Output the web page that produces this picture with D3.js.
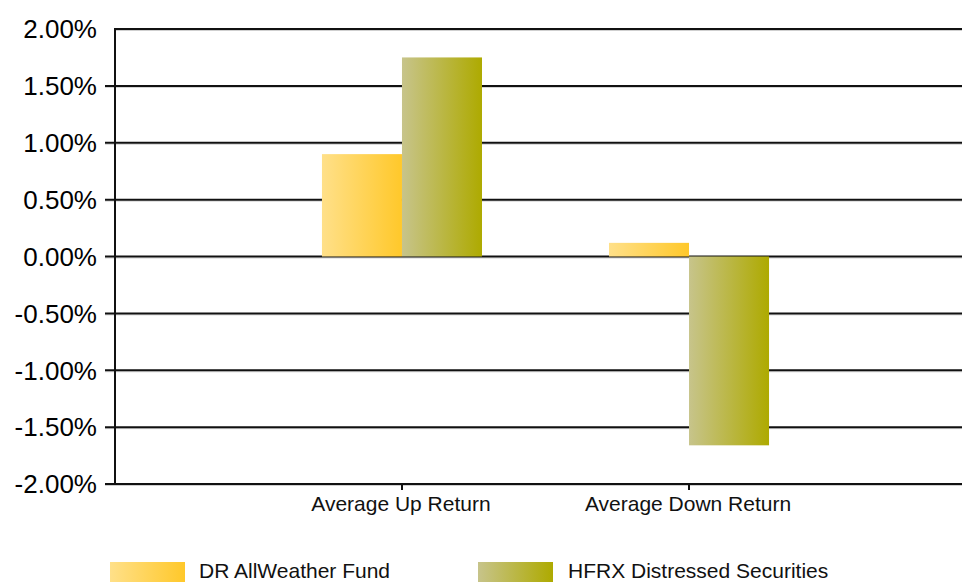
<!DOCTYPE html>
<html>
<head>
<meta charset="utf-8">
<script src="https://cdn.jsdelivr.net/npm/d3@7"></script>
<style>
  html, body { margin: 0; padding: 0; background: #fff; overflow: hidden; }
  svg { display: block; font-family: "Liberation Sans", Arial, sans-serif; }
</style>
</head>
<body>
<svg id="chart" width="962" height="582"></svg>
<script>
// Return statistics, in percent
const categories = ["Average Up Return", "Average Down Return"];
const seriesNames = ["DR AllWeather Fund", "HFRX Distressed Securities"];
const fundValues = [0.90, 0.12];
const indexValues = [1.75, -1.66];
const yTickValues = [-2, -1.5, -1, -0.5, 0, 0.5, 1, 1.5, 2];

const seriesValues = [fundValues, indexValues];
const gradients = [
  { id: "gradFund", from: "#ffe089", to: "#ffc82a" },
  { id: "gradIndex", from: "#c7c48b", to: "#aeaa00" }
];

const svg = d3.select("#chart");
const plotLeft = 115, plotRight = 976, plotTop = 29, plotBottom = 484;

const y = d3.scaleLinear().domain([-2, 2]).range([plotBottom, plotTop]);
const x = d3.scaleBand().domain(categories).range([plotLeft, plotRight])
  .paddingInner(0.4425).paddingOuter(0.721);
const x1 = d3.scaleBand().domain(seriesNames).range([0, x.bandwidth()]).padding(0);

const pct = d => d.toFixed(2) + "%";

const defs = svg.append("defs");
gradients.forEach(g => {
  const lg = defs.append("linearGradient").attr("id", g.id)
    .attr("x1", "0%").attr("x2", "100%").attr("y1", "0%").attr("y2", "0%");
  lg.append("stop").attr("offset", "0%").attr("stop-color", g.from);
  lg.append("stop").attr("offset", "100%").attr("stop-color", g.to);
});

// Horizontal gridlines with a soft shadow line under each
const grid = svg.append("g");
grid.selectAll("line.shadow").data(yTickValues).join("line")
  .attr("class", "shadow")
  .attr("x1", d => d === 2 ? plotLeft : plotLeft - 10).attr("x2", 962)
  .attr("y1", d => y(d) + 1.5).attr("y2", d => y(d) + 1.5)
  .attr("stroke", "#cfcfcf").attr("stroke-width", 1);
grid.selectAll("line.major").data(yTickValues).join("line")
  .attr("class", "major")
  .attr("x1", d => d === 2 ? plotLeft : plotLeft - 10).attr("x2", 962)
  .attr("y1", d => y(d)).attr("y2", d => y(d))
  .attr("stroke", "#111").attr("stroke-width", 2);

// Y axis labels
svg.append("g").selectAll("text").data(yTickValues).join("text")
  .attr("x", 97).attr("y", d => y(d))
  .attr("dy", "0.36em")
  .attr("text-anchor", "end")
  .attr("font-size", 26)
  .attr("fill", "#000")
  .text(pct);

// Vertical axis line
svg.append("line")
  .attr("x1", plotLeft).attr("x2", plotLeft).attr("y1", plotTop - 1).attr("y2", plotBottom + 1)
  .attr("stroke", "#111").attr("stroke-width", 2);

// Bars
const groups = svg.append("g").selectAll("g").data(categories).join("g")
  .attr("transform", d => `translate(${x(d)},0)`);
groups.selectAll("rect")
  .data((d, i) => seriesNames.map((s, j) => ({ s, j, v: seriesValues[j][i] })))
  .join("rect")
  .attr("x", d => x1(d.s))
  .attr("width", x1.bandwidth())
  .attr("y", d => y(Math.max(0, d.v)))
  .attr("height", d => Math.abs(y(d.v) - y(0)))
  .attr("fill", d => `url(#${gradients[d.j].id})`);

// Category ticks and labels on the bottom axis
svg.append("g").selectAll("line").data(categories).join("line")
  .attr("x1", d => x(d) + x.bandwidth() / 2).attr("x2", d => x(d) + x.bandwidth() / 2)
  .attr("y1", plotBottom).attr("y2", plotBottom + 6)
  .attr("stroke", "#111").attr("stroke-width", 2);
svg.append("g").selectAll("text").data(categories).join("text")
  .attr("x", d => x(d) + x.bandwidth() / 2 - 1).attr("y", 511)
  .attr("text-anchor", "middle")
  .attr("font-size", 21)
  .attr("fill", "#111")
  .text(d => d);

// Legend
const legendX = [110, 478];
const legend = svg.append("g").selectAll("g").data(seriesNames).join("g")
  .attr("transform", (d, i) => `translate(${legendX[i]},562)`);
legend.append("rect").attr("width", 75).attr("height", 24)
  .attr("fill", (d, i) => `url(#${gradients[i].id})`);
legend.append("text").attr("x", (d, i) => i === 0 ? 89 : 90).attr("y", 16)
  .attr("font-size", 21).attr("fill", "#111")
  .text(d => d);
</script>
</body>
</html>
